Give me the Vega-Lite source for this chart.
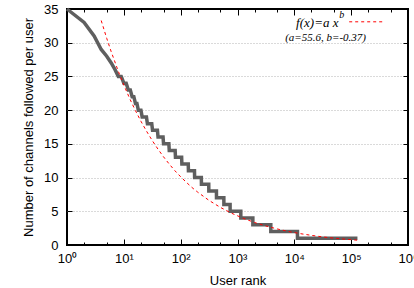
{
  "$schema": "https://vega.github.io/schema/vega-lite/v6.json",
  "width": 341,
  "height": 236,
  "autosize": {"type": "none"},
  "padding": {"left": 67, "top": 9, "right": 6, "bottom": 43},
  "background": "white",
  "config": {"view": {"stroke": "black", "strokeWidth": 2}, "font": "Liberation Sans"},
  "datasets": {
    "steps": [
      {"rank": 1, "channels": 35}, {"rank": 2, "channels": 33}, {"rank": 3, "channels": 31},
      {"rank": 4, "channels": 29}, {"rank": 5, "channels": 28}, {"rank": 6, "channels": 27},
      {"rank": 7, "channels": 26}, {"rank": 8, "channels": 25}, {"rank": 9, "channels": 25},
      {"rank": 10, "channels": 24}, {"rank": 11, "channels": 24}, {"rank": 12, "channels": 23},
      {"rank": 13, "channels": 23}, {"rank": 14, "channels": 22}, {"rank": 15, "channels": 22},
      {"rank": 16, "channels": 21}, {"rank": 17, "channels": 21}, {"rank": 18, "channels": 20},
      {"rank": 20, "channels": 20}, {"rank": 21, "channels": 19}, {"rank": 25, "channels": 19},
      {"rank": 26, "channels": 18}, {"rank": 31, "channels": 18}, {"rank": 32, "channels": 17},
      {"rank": 39, "channels": 17}, {"rank": 40, "channels": 16}, {"rank": 49, "channels": 16},
      {"rank": 50, "channels": 15}, {"rank": 62, "channels": 15}, {"rank": 63, "channels": 14},
      {"rank": 80, "channels": 14}, {"rank": 81, "channels": 13}, {"rank": 104, "channels": 13},
      {"rank": 105, "channels": 12}, {"rank": 136, "channels": 12}, {"rank": 137, "channels": 11},
      {"rank": 175, "channels": 11}, {"rank": 176, "channels": 10}, {"rank": 231, "channels": 10},
      {"rank": 232, "channels": 9}, {"rank": 312, "channels": 9}, {"rank": 313, "channels": 8},
      {"rank": 426, "channels": 8}, {"rank": 427, "channels": 7}, {"rank": 575, "channels": 7},
      {"rank": 576, "channels": 6}, {"rank": 741, "channels": 6}, {"rank": 742, "channels": 5},
      {"rank": 1143, "channels": 5}, {"rank": 1144, "channels": 4}, {"rank": 1862, "channels": 4},
      {"rank": 1863, "channels": 3}, {"rank": 3855, "channels": 3}, {"rank": 3856, "channels": 2},
      {"rank": 11350, "channels": 2}, {"rank": 11351, "channels": 1}, {"rank": 129000, "channels": 1}
    ],
    "fit": [
      {"rank": 4, "channels": 33.29}, {"rank": 5, "channels": 30.65}, {"rank": 6, "channels": 28.66},
      {"rank": 8, "channels": 25.76}, {"rank": 10, "channels": 23.72}, {"rank": 13, "channels": 21.52},
      {"rank": 16, "channels": 19.93}, {"rank": 20, "channels": 18.35}, {"rank": 25, "channels": 16.9},
      {"rank": 32, "channels": 15.42}, {"rank": 40, "channels": 14.2}, {"rank": 50, "channels": 13.07},
      {"rank": 63, "channels": 12.0}, {"rank": 79, "channels": 11.02}, {"rank": 100, "channels": 10.12},
      {"rank": 126, "channels": 9.29}, {"rank": 158, "channels": 8.53}, {"rank": 200, "channels": 7.83},
      {"rank": 316, "channels": 6.61}, {"rank": 501, "channels": 5.57}, {"rank": 794, "channels": 4.7},
      {"rank": 1259, "channels": 3.96}, {"rank": 1995, "channels": 3.34}, {"rank": 3162, "channels": 2.82},
      {"rank": 5012, "channels": 2.38}, {"rank": 7943, "channels": 2.0}, {"rank": 12589, "channels": 1.69},
      {"rank": 19953, "channels": 1.43}, {"rank": 31623, "channels": 1.2}, {"rank": 50119, "channels": 1.01},
      {"rank": 79433, "channels": 0.86}, {"rank": 130000, "channels": 0.71}
    ],
    "one": [{}]
  },
  "layer": [
    {
      "data": {"name": "steps"},
      "mark": {"type": "line", "color": "#5f5f5f", "strokeWidth": 3.5},
      "encoding": {
        "x": {
          "field": "rank", "type": "quantitative",
          "scale": {"type": "log", "domain": [1, 1000000]},
          "axis": {
            "orient": "bottom", "title": "User rank",
            "values": [1, 2, 5, 10, 20, 50, 100, 200, 500, 1000, 2000, 5000, 10000, 20000, 50000, 100000, 200000, 500000, 1000000],
            "labelExpr": "indexof([1,10,100,1000,10000,100000,1000000], datum.value) >= 0 ? '10' + ['⁰','¹','²','³','⁴','⁵','⁶'][round(log(datum.value)/LN10)] : ''",
            "tickSize": {"condition": {"test": "indexof([1,10,100,1000,10000,100000,1000000], datum.value) >= 0", "value": -6}, "value": -3},
            "tickColor": "black", "tickWidth": 1, "domain": false, "grid": false,
            "labelFontSize": 13, "labelColor": "black", "labelPadding": 13,
            "labelOverlap": false, "labelFlush": false,
            "titleFontSize": 13, "titleFontWeight": "normal", "titleColor": "black", "titlePadding": 6
          }
        },
        "y": {
          "field": "channels", "type": "quantitative",
          "scale": {"domain": [0, 35]},
          "axis": {
            "orient": "left", "title": "Number of channels followed per user",
            "values": [0, 5, 10, 15, 20, 25, 30, 35],
            "tickSize": -5, "tickColor": "black", "tickWidth": 1, "domain": false,
            "grid": true, "gridDash": [1, 2], "gridColor": "#b4b4b4", "gridWidth": 1,
            "gridOpacity": {"condition": {"test": "datum.value > 0 && datum.value < 35", "value": 1}, "value": 0},
            "labelFontSize": 13, "labelColor": "black", "labelPadding": 14,
            "titleFontSize": 13, "titleFontWeight": "normal", "titleColor": "black", "titlePadding": 8
          }
        }
      }
    },
    {
      "data": {"name": "fit"},
      "mark": {"type": "line", "color": "#ff0000", "strokeWidth": 1, "strokeDash": [3, 3]},
      "encoding": {
        "x": {
          "field": "rank", "type": "quantitative",
          "scale": {"type": "log", "domain": [1, 1000000]},
          "axis": {
            "orient": "top", "title": null, "labels": false,
            "values": [1, 2, 5, 10, 20, 50, 100, 200, 500, 1000, 2000, 5000, 10000, 20000, 50000, 100000, 200000, 500000, 1000000],
            "tickSize": {"condition": {"test": "indexof([1,10,100,1000,10000,100000,1000000], datum.value) >= 0", "value": -6}, "value": -3},
            "tickColor": "black", "tickWidth": 1, "domain": false, "grid": false
          }
        },
        "y": {
          "field": "channels", "type": "quantitative",
          "scale": {"domain": [0, 35]},
          "axis": {
            "orient": "right", "title": null, "labels": false,
            "values": [0, 5, 10, 15, 20, 25, 30, 35],
            "tickSize": -5, "tickColor": "black", "tickWidth": 1, "domain": false, "grid": false
          }
        }
      }
    },
    {
      "data": {"name": "one"},
      "mark": {"type": "rule", "color": "#ff0000", "strokeWidth": 1, "strokeDash": [3, 3]},
      "encoding": {
        "x": {"datum": 92300, "type": "quantitative", "scale": {"type": "log", "domain": [1, 1000000]}, "axis": null},
        "x2": {"datum": 397000},
        "y": {"datum": 33.1, "type": "quantitative", "scale": {"domain": [0, 35]}, "axis": null}
      }
    },
    {
      "data": {"name": "one"},
      "mark": {"type": "text", "text": "f(x)=a x", "font": "Liberation Serif", "fontStyle": "italic", "fontSize": 13, "align": "right", "baseline": "alphabetic", "color": "black"},
      "encoding": {
        "x": {"datum": 59700, "type": "quantitative", "scale": {"type": "log", "domain": [1, 1000000]}, "axis": null},
        "y": {"datum": 32.4, "type": "quantitative", "scale": {"domain": [0, 35]}, "axis": null}
      }
    },
    {
      "data": {"name": "one"},
      "mark": {"type": "text", "text": "b", "font": "Liberation Serif", "fontStyle": "italic", "fontSize": 10, "align": "left", "baseline": "alphabetic", "color": "black"},
      "encoding": {
        "x": {"datum": 61500, "type": "quantitative", "scale": {"type": "log", "domain": [1, 1000000]}, "axis": null},
        "y": {"datum": 33.68, "type": "quantitative", "scale": {"domain": [0, 35]}, "axis": null}
      }
    },
    {
      "data": {"name": "one"},
      "mark": {"type": "text", "text": "(a=55.6, b=-0.37)", "font": "Liberation Serif", "fontStyle": "italic", "fontSize": 11, "align": "left", "baseline": "alphabetic", "color": "black"},
      "encoding": {
        "x": {"datum": 6890, "type": "quantitative", "scale": {"type": "log", "domain": [1, 1000000]}, "axis": null},
        "y": {"datum": 30.3, "type": "quantitative", "scale": {"domain": [0, 35]}, "axis": null}
      }
    }
  ],
  "resolve": {"axis": {"x": "independent", "y": "independent"}}
}
